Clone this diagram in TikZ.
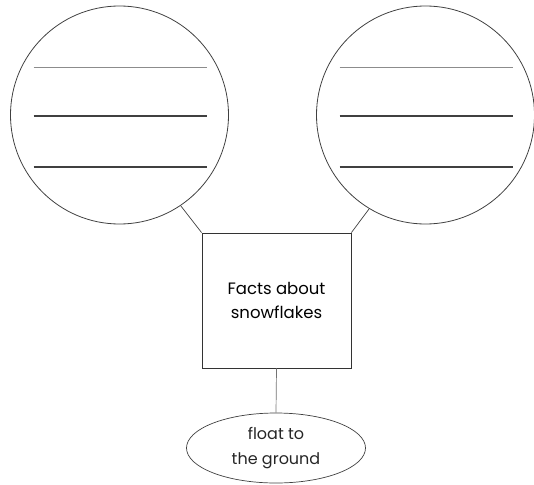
\documentclass[tikz,border=0pt]{standalone}
\usepackage{fontspec}
\setmainfont{Poppins}
\usetikzlibrary{shapes.geometric}

\begin{document}
\begin{tikzpicture}[x=1pt,y=-1pt,
	bubble/.style={circle,draw=black!75,line width=0.8pt,minimum size=218pt,inner sep=0pt},
	factbox/.style={rectangle,draw=black!80,line width=0.8pt,minimum width=149pt,minimum height=135pt,align=center,font=\fontsize{16.5}{24}\selectfont,text=black},
	factoval/.style={ellipse,draw=black!75,line width=0.7pt,minimum width=179pt,minimum height=70pt,inner sep=0pt,align=center,font=\fontsize{16}{25}\selectfont,text=black!85},
	link/.style={draw=black!75,line width=0.7pt},
	writeline/.style={line width=1.1pt,black!75}]
		\useasboundingbox (0,0) rectangle (534,484);
		\node[bubble] (lc) at (119.5,115) {};
		\node[bubble] (rc) at (425.5,115) {};
		\node[factbox] (facts) at (276.5,300.5) {Facts about\\snowflakes};
		\node[factoval] (ground) at (276,448) {float to\\the ground};
		\foreach \c in {lc,rc} {
			\draw[writeline,black!45,line width=0.7pt] ([shift={(-86,-48)}]\c.center) -- ++(173,0);
			\draw[writeline] ([shift={(-86,1)}]\c.center) -- ++(173,0);
			\draw[writeline] ([shift={(-86,52)}]\c.center) -- ++(173,0);
		}
		\draw[link] (lc.-56) -- (facts.north west);
		\draw[link] (rc.-121) -- (facts.north east);
		\draw[link,black!55] (facts.south) -- (ground.north);
	\end{tikzpicture}
\end{document}
